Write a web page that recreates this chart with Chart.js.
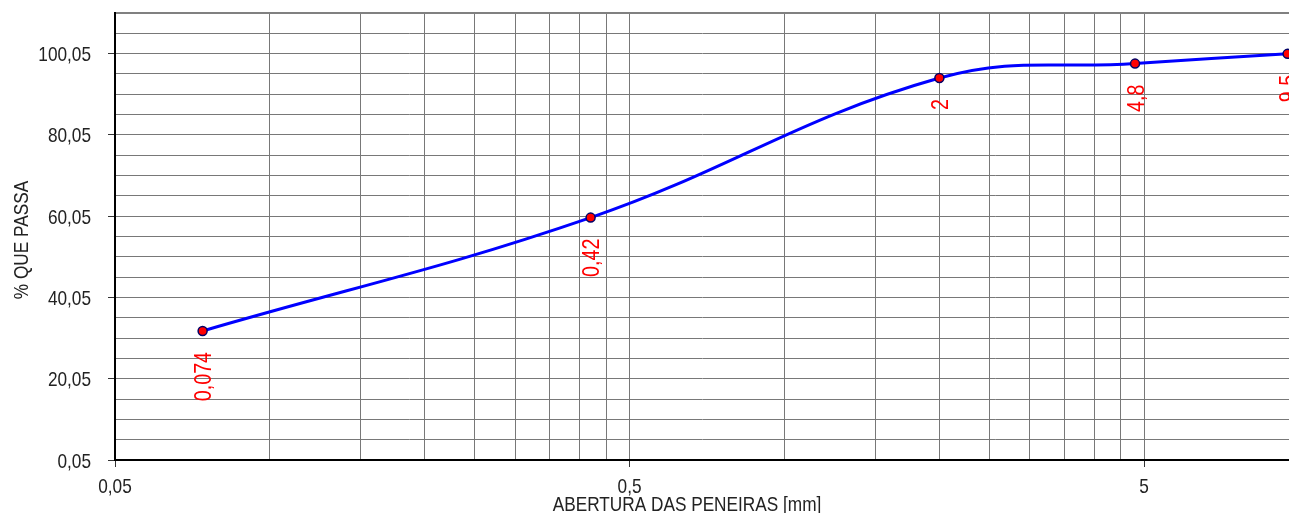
<!DOCTYPE html>
<html>
<head>
<meta charset="utf-8">
<style>
  html, body { margin: 0; padding: 0; background: #fff; }
  #wrap { width: 1289px; height: 513px; position: relative; }
  canvas { display: block; }
</style>
<script src="https://cdn.jsdelivr.net/npm/chart.js@4/dist/chart.umd.min.js"></script>
</head>
<body>
<div id="wrap"><canvas id="curva" width="1289" height="513"></canvas></div>
<script>
// Sieve openings (mm) and cumulative percentage passing
const aberturas = [0.074, 0.42, 2, 4.8, 9.5];
const passante = [31.8, 59.7, 94.05, 97.6, 100];
const rotulos = ['0,074', '0,42', '2', '4,8', '9,5'];

// Axis limits and tick settings
const xMin = 0.05, xMax = 9.56;
const xDecadas = [0.05, 0.5, 5];
const yMin = 0.05, yMax = 110.05, yPasso = 5, yPassoRotulo = 20;

// Narrow sans: Liberation Sans squeezed horizontally
const FONTE = "'Liberation Sans', Arial, sans-serif";
const ESTREITO = 0.82;

const fmt = v => String(v).replace('.', ',');

// x grid: every multiple of each decade start (0.05, 0.1, 0.15 ... 0.5, 1.0 ...)
const xTicks = [];
xDecadas.forEach(d => {
  for (let k = 1; k < 10; k++) {
    const v = Math.round(d * k * 10000) / 10000;
    if (v <= xMax) xTicks.push(v);
  }
});
const yTicks = [];
for (let v = yMin; v <= yMax + 1e-9; v += yPasso) yTicks.push(Math.round(v * 100) / 100);

const isDecada = v => xDecadas.some(d => Math.abs(d - v) < 1e-9);
const isRotuloY = v => Math.abs(((v - yMin) / yPassoRotulo) - Math.round((v - yMin) / yPassoRotulo)) < 1e-6;

function texto(ctx, s, x, y, size, align, color, angle) {
  ctx.save();
  ctx.fillStyle = color;
  ctx.font = size + 'px ' + FONTE;
  ctx.textAlign = align;
  ctx.textBaseline = 'alphabetic';
  ctx.translate(x, y);
  if (angle) ctx.rotate(angle);
  ctx.scale(ESTREITO, 1);
  ctx.fillText(s, 0, 0);
  ctx.restore();
}

// Vertical red value labels under each point
const rotulosPlugin = {
  id: 'rotulosPontos',
  afterDatasetsDraw(chart) {
    const ctx = chart.ctx;
    const meta = chart.getDatasetMeta(0);
    const size = 24;
    meta.data.forEach((pt, i) => {
      texto(ctx, rotulos[i], pt.x + size * 0.358, pt.y + 21, size, 'right', '#ff0000', -Math.PI / 2);
    });
  }
};

// Tick labels and axis titles
const textosPlugin = {
  id: 'textosEixos',
  afterDraw(chart) {
    const ctx = chart.ctx;
    const xs = chart.scales.x, ys = chart.scales.y;
    const cor = '#222';
    xDecadas.forEach(v => texto(ctx, fmt(v), xs.getPixelForValue(v), 493, 21, 'center', cor));
    yTicks.filter(isRotuloY).forEach(v =>
      texto(ctx, v.toFixed(2).replace('.', ','), 91, ys.getPixelForValue(v) + 7.5, 21, 'right', cor));
    texto(ctx, 'ABERTURA DAS PENEIRAS [mm]', 687, 511, 21, 'center', cor);
    texto(ctx, '% QUE PASSA', 28, 240, 21, 'center', cor, -Math.PI / 2);
  }
};

new Chart(document.getElementById('curva'), {
  type: 'line',
  data: {
    datasets: [{
      data: aberturas.map((x, i) => ({ x: x, y: passante[i] })),
      borderColor: '#0000ff',
      borderWidth: 3,
      tension: 0.4,
      pointRadius: 4.5,
      pointBorderWidth: 1.5,
      pointBackgroundColor: '#ff0000',
      pointBorderColor: '#000066',
      clip: false
    }]
  },
  options: {
    responsive: false,
    animation: false,
    events: [],
    layout: { autoPadding: false, padding: { top: 13, right: 0, left: 0, bottom: 0 } },
    plugins: { legend: { display: false }, tooltip: { enabled: false }, title: { display: false } },
    scales: {
      x: {
        type: 'logarithmic',
        min: xMin,
        max: xMax,
        afterBuildTicks(scale) { scale.ticks = xTicks.map(v => ({ value: v })); },
        afterFit(scale) { scale.height = 53; scale.paddingLeft = 0; scale.paddingRight = 0; },
        border: { display: true, color: '#000', width: 2 },
        grid: {
          color: '#787878',
          lineWidth: 1,
          drawTicks: true,
          tickLength: 7,
          tickColor: c => (c.tick && isDecada(c.tick.value)) ? '#333' : 'rgba(0,0,0,0)'
        },
        ticks: { display: false, autoSkip: false, maxRotation: 0 }
      },
      y: {
        type: 'linear',
        min: yMin,
        max: yMax,
        afterBuildTicks(scale) { scale.ticks = yTicks.map(v => ({ value: v })); },
        afterFit(scale) { scale.width = 115; scale.paddingTop = 0; scale.paddingBottom = 0; },
        border: { display: true, color: '#000', width: 2 },
        grid: {
          color: c => (c.tick && Math.abs(c.tick.value - yMax) < 1e-6) ? '#808080' : '#787878',
          lineWidth: c => (c.tick && Math.abs(c.tick.value - yMax) < 1e-6) ? 2 : 1,
          drawTicks: true,
          tickLength: 7,
          tickColor: c => (c.tick && isRotuloY(c.tick.value)) ? '#333' : 'rgba(0,0,0,0)'
        },
        ticks: { display: false, autoSkip: false }
      }
    }
  },
  plugins: [rotulosPlugin, textosPlugin]
});
</script>
</body>
</html>
